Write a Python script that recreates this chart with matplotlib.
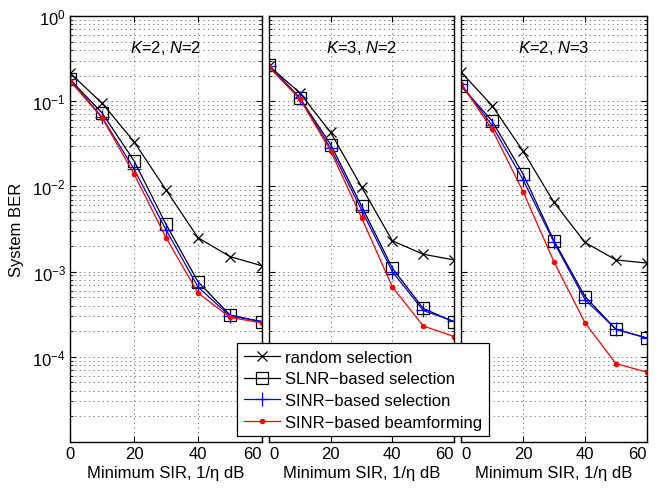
import matplotlib
matplotlib.use('Agg')
import matplotlib.pyplot as plt
from matplotlib.ticker import LogLocator, NullFormatter, FixedLocator

plt.rcParams['font.family'] = ['Liberation Sans', 'DejaVu Sans']
plt.rcParams['mathtext.fontset'] = 'custom'
plt.rcParams['mathtext.rm'] = 'Liberation Sans'
plt.rcParams['mathtext.it'] = 'Liberation Sans:italic'
plt.rcParams['font.size'] = 12

# ---- data ----
sir_db = [0, 10, 20, 30, 40, 50, 60]
panel_titles = [r'$K$=2, $N$=2', r'$K$=3, $N$=2', r'$K$=2, $N$=3']
series_labels = ['random selection', 'SLNR\u2212based selection',
                 'SINR\u2212based selection', 'SINR\u2212based beamforming']

p1_random = [0.214, 0.095, 0.0335, 0.0091, 0.0025, 0.0015, 0.00117]
p1_slnr = [0.18, 0.073, 0.020, 0.0036, 0.00076, 0.00031, 0.000257]
p1_sinr = [0.18, 0.065, 0.016, 0.0031, 0.00066, 0.00030, 0.00026]
p1_bf = [0.172, 0.064, 0.014, 0.0025, 0.00056, 0.00029, 0.00025]

p2_random = [0.26, 0.125, 0.043, 0.0099, 0.0023, 0.0016, 0.00137]
p2_slnr = [0.265, 0.109, 0.031, 0.0059, 0.0011, 0.00037, 0.000257]
p2_sinr = [0.26, 0.108, 0.028, 0.0053, 0.0010, 0.00035, 0.00026]
p2_bf = [0.25, 0.106, 0.026, 0.0043, 0.00066, 0.00023, 0.000173]

p3_random = [0.22, 0.089, 0.026, 0.0065, 0.0022, 0.00137, 0.00126]
p3_slnr = [0.15, 0.059, 0.014, 0.0023, 0.00051, 0.00021, 0.000166]
p3_sinr = [0.16, 0.052, 0.012, 0.0022, 0.00047, 0.00021, 0.000166]
p3_bf = [0.16, 0.047, 0.0087, 0.0013, 0.00025, 8.3e-5, 6.6e-5]

panels = [
    (p1_random, p1_slnr, p1_sinr, p1_bf),
    (p2_random, p2_slnr, p2_sinr, p2_bf),
    (p3_random, p3_slnr, p3_sinr, p3_bf),
]
x_ticks = [0, 20, 40, 60]

# ---- styles ----
styles = [
    dict(color='black', marker='x', markersize=7, mew=0.9, lw=0.9),
    dict(color='black', marker='s', markersize=8, mfc='none', mew=0.9, lw=0.9),
    dict(color='blue', marker='+', markersize=10, mew=0.9, lw=0.9),
    dict(color='red', marker='o', markersize=3, lw=0.9),
]
grid_style = dict(linestyle=(0, (1.5, 4)), color='0.4', lw=0.6)

W, H = 661, 489
fig = plt.figure(figsize=(W / 100, H / 100), dpi=100)
px_edges = [(70, 262), (269, 454), (461, 647)]
top_px, bot_px = 17, 443

axes = []
for i, ((l, r), data) in enumerate(zip(px_edges, panels)):
    ax = fig.add_axes([l / W, 1 - bot_px / H, (r - l) / W, (bot_px - top_px) / H])
    axes.append(ax)
    handles = []
    for y, st, lab in zip(data, styles, series_labels):
        h, = ax.plot(sir_db, y, label=lab, **st)
        handles.append(h)
    ax.set_yscale('log')
    ax.set_ylim(1e-5, 1)
    ax.set_xlim(0, 60)
    ax.set_xticks(x_ticks)
    ax.yaxis.set_major_locator(FixedLocator([1e-4, 1e-3, 1e-2, 1e-1, 1]))
    ax.yaxis.set_minor_locator(LogLocator(base=10, subs=range(2, 10), numticks=20))
    ax.yaxis.set_minor_formatter(NullFormatter())
    ax.grid(True, which='major', axis='both', **grid_style)
    ax.grid(True, which='minor', axis='y', **grid_style)
    ax.tick_params(which='both', direction='in', top=True, right=True, labelsize=12)
    ax.tick_params(which='major', length=4, width=0.8, pad=3)
    ax.tick_params(which='minor', length=2, width=0.6)
    for s in ax.spines.values():
        s.set_linewidth(1.0)
    if i > 0:
        ax.set_yticklabels([])
    ax.set_xlabel('Minimum SIR, 1/\u03b7 dB', fontsize=12, labelpad=3)
    ax.text(30, 0.43, panel_titles[i], ha='center', va='center', fontsize=12)
    fig.canvas.draw()
    labs = ax.get_xticklabels()
    labs[-1].set_ha('right')
    if i > 0:
        labs[0].set_ha('left')

axes[0].set_ylabel('System BER', fontsize=12, labelpad=6)

fig.legend(handles, series_labels, loc='upper left',
           bbox_to_anchor=(237 / W, 1 - 344 / H), borderaxespad=0,
           fancybox=False, edgecolor='black', framealpha=1, fontsize=12,
           handlelength=2.2, handletextpad=0.3, labelspacing=0.4,
           borderpad=0.4)
fig.legends[0].get_frame().set_linewidth(0.9)

fig.savefig('out.png', dpi=100)
